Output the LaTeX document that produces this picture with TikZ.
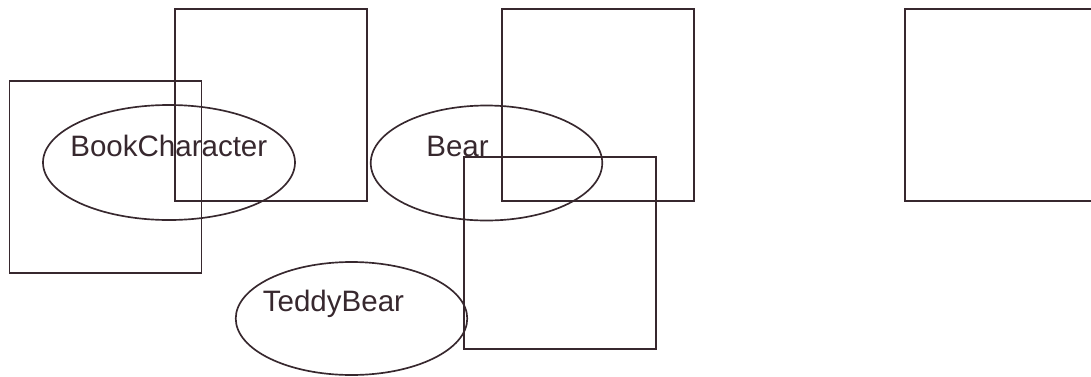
\documentclass[tikz,border=0pt]{standalone}
\usepackage{fontspec}
\setmainfont{Liberation Sans}
\usepackage{tikz}
\usetikzlibrary{shapes.geometric}
\definecolor{umink}{RGB}{55,40,46}

\begin{document}
\begin{tikzpicture}[
  font=\fontsize{16.8}{20}\selectfont,
  color=umink,
  sq/.style={draw, rectangle, minimum width=3.84cm, minimum height=3.84cm, line width=0.95pt, inner sep=0pt},
  ell/.style={draw, ellipse, minimum width=4.63cm, minimum height=2.3cm, line width=0.95pt, inner sep=0pt},
  lbl/.style={anchor=base west, inner sep=0pt},
]
\useasboundingbox (0,0) rectangle (21.82,7.52);

% ============ Squares ============
\node[sq] (sqA) at (2.11,3.98) {};
\node[sq] (sqB) at (5.42,5.42) {};
\node[sq] (sqC) at (11.96,5.42) {};
\node[sq] (sqD) at (11.20,2.46) {};
\node[sq] (sqE) at (20.02,5.42) {};

% ============ Ellipses ============
\node[ell, minimum width=5.04cm] (bookchar) at (3.38,4.27) {};
\node[ell] (bear) at (9.73,4.26) {};
\node[ell, minimum height=2.26cm] (teddy) at (7.03,1.15) {};

% ============ Labels ============
\node[lbl] (bookcharlbl) at (1.40,4.40) {BookCharacter};
\node[lbl] (bearlbl) at (8.52,4.40) {Bear};
\node[lbl] (teddylbl) at (5.25,1.30) {TeddyBear};

\end{tikzpicture}
\end{document}
